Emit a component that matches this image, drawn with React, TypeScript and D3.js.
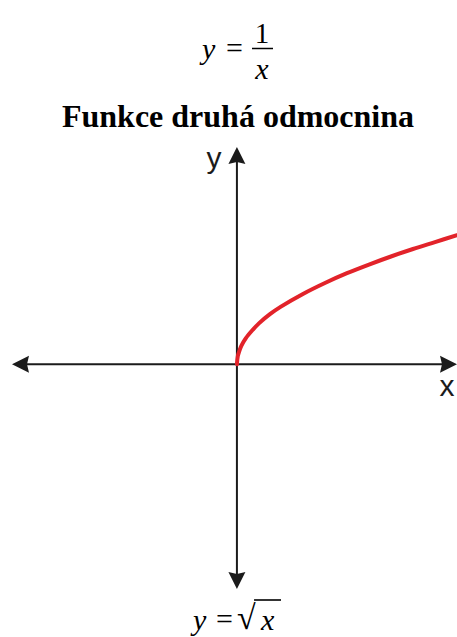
import React from "react";
import * as d3 from "d3";

const W = 457;
const H = 637;

// Curve samples: x and y (in axis units)
const curveX = [0, 0.02, 0.05, 0.1, 0.2, 0.35, 0.5, 0.75, 1, 1.5, 2, 2.5, 3, 3.5, 4, 4.5, 5];
const curveY = [0, 0.14, 0.22, 0.32, 0.45, 0.59, 0.71, 0.87, 1.0, 1.22, 1.41, 1.58, 1.73, 1.87, 2.0, 2.12, 2.24];

const xDomain = [-5.11, 5];
const yDomain = [-3.9, 3.77];

const titleText = "Funkce druhá odmocnina";
const xLabel = "x";
const yLabel = "y";

export default function App() {
  const x = d3.scaleLinear().domain(xDomain).range([12, 457]);
  const y = d3.scaleLinear().domain(yDomain).range([589, 147]);
  const x0 = x(0);
  const y0 = y(0);

  const pts: [number, number][] = curveX.map((v, i) => [x(v), y(curveY[i])]);
  const line = d3.line().curve(d3.curveCatmullRom.alpha(0.5))(pts) || "";

  const L = 17; // arrow length
  const Wd = 8.5; // half width
  const notch = 2;
  const axisColor = "#1b1b1b";

  const left = x(xDomain[0]);
  const right = x(xDomain[1]);
  const top = y(yDomain[1]);
  const bottom = y(yDomain[0]);

  const arrowLeft = `M${left},${y0} L${left + L},${y0 - Wd} L${left + L - notch},${y0} L${left + L},${y0 + Wd} Z`;
  const arrowRight = `M${right},${y0} L${right - L},${y0 - Wd} L${right - L + notch},${y0} L${right - L},${y0 + Wd} Z`;
  const arrowTop = `M${x0},${top} L${x0 - Wd},${top + L} L${x0},${top + L - notch} L${x0 + Wd},${top + L} Z`;
  const arrowBottom = `M${x0},${bottom} L${x0 - Wd},${bottom - L} L${x0},${bottom - L + notch} L${x0 + Wd},${bottom - L} Z`;

  const serif = "'Liberation Serif', 'Times New Roman', serif";
  const sans = "'Liberation Sans', Arial, sans-serif";

  return (
    <svg width={W} height={H} style={{ position: "absolute", left: 0, top: 0, display: "block" }}>
      <rect width={W} height={H} fill="#ffffff" />
      {/* top formula y = 1/x */}
      <g fontFamily={serif} fill="#000">
        <text x={202} y={59} fontSize={30} fontStyle="italic">y</text>
        <text x={226} y={58} fontSize={30}>=</text>
        <text x={262} y={43} fontSize={29} textAnchor="middle">1</text>
        <line x1={252} x2={273} y1={48.5} y2={48.5} stroke="#000" strokeWidth={1.5} />
        <text x={262} y={79} fontSize={30} fontStyle="italic" textAnchor="middle">x</text>
      </g>
      {/* title */}
      <text x={238} y={127} fontFamily={serif} fontWeight="bold" fontSize={32} textAnchor="middle" fill="#000">
        {titleText}
      </text>
      {/* axes */}
      <line x1={left + 10} x2={right - 10} y1={y0} y2={y0} stroke={axisColor} strokeWidth={2} />
      <line x1={x0} x2={x0} y1={top + 10} y2={bottom - 10} stroke={axisColor} strokeWidth={2} />
      <path d={arrowLeft} fill={axisColor} />
      <path d={arrowRight} fill={axisColor} />
      <path d={arrowTop} fill={axisColor} />
      <path d={arrowBottom} fill={axisColor} />
      <text x={214} y={168} fontFamily={sans} fontSize={30} textAnchor="middle" fill={axisColor}>{yLabel}</text>
      <text x={447} y={396} fontFamily={sans} fontSize={30} textAnchor="middle" fill={axisColor}>{xLabel}</text>
      {/* curve */}
      <path d={line} fill="none" stroke="#e2232a" strokeWidth={4} strokeLinecap="round" />
      {/* bottom formula y = sqrt(x) */}
      <g fontFamily={serif} fill="#000">
        <text x={193} y={630} fontSize={30} fontStyle="italic">y</text>
        <text x={216} y={629} fontSize={30}>=</text>
        <text x={237} y={629} fontSize={34} fontWeight="bold">√</text>
        <line x1={254} x2={281} y1={600} y2={600} stroke="#000" strokeWidth={1.6} />
        <text x={261} y={630} fontSize={30} fontStyle="italic">x</text>
      </g>
    </svg>
  );
}
